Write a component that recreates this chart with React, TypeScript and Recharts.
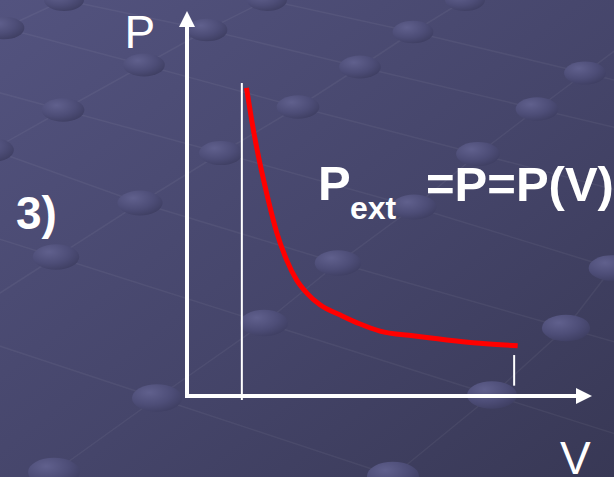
import { ComposedChart, Line, XAxis, YAxis, ReferenceLine } from 'recharts'

// P(V) along the expansion, arbitrary units
const volume = [1.53, 1.72, 2.09, 2.31, 2.56, 2.82, 3.08, 3.42, 3.93, 4.45, 4.96, 5.81, 6.68, 7.53, 8.5]
const pressure = [8.35, 7.13, 5.31, 4.42, 3.69, 3.14, 2.79, 2.47, 2.2, 1.95, 1.76, 1.63, 1.52, 1.43, 1.36]

const data = volume.map((v, i) => ({ v, p: pressure[i] }))

// initial and final volume markers
const startVolume = 1.41
const startMarkerSpan = [-0.11, 8.48]
const endVolume = 8.41
const endMarkerSpan = [0.28, 1.11]

const W = 614
const H = 477
const FONT = '"Liberation Sans", Arial, sans-serif'

// slide backdrop: beads sitting on a perspective lattice
const beads: [number, number][] = [
  [4, 28], [64, 0], [267, 0], [465, 0], [207, 30], [413, 32], [144, 65], [360, 67],
  [585, 73], [63, 110], [298, 107], [537, 109], [-8, 150], [221, 153], [478, 154],
  [140, 203], [414, 207], [56, 257], [338, 263], [612, 268], [264, 323], [566, 328],
  [157, 398], [492, 395], [54, 472], [393, 476],
]
const risingRows = [
  [0, 1],
  [12, 9, 6, 4, 2],
  [17, 15, 13, 10, 7, 5, 3],
  [24, 22, 20, 18, 16, 14, 11, 8],
  [25, 23, 21, 19],
]
const fallingRows = [
  [0, 6, 10, 14],
  [1, 4, 7, 11],
  [2, 5, 8],
  [12, 15, 18, 21],
  [9, 13, 16, 19],
  [17, 20, 23],
  [22, 25],
]

function rowPath(row: number[]) {
  const pts = row.map((i) => beads[i])
  const [a, b] = [pts[0], pts[1]]
  const [y, z] = [pts[pts.length - 2], pts[pts.length - 1]]
  const head: [number, number] = [a[0] - (b[0] - a[0]) * 4, a[1] - (b[1] - a[1]) * 4]
  const tail: [number, number] = [z[0] + (z[0] - y[0]) * 4, z[1] + (z[1] - y[1]) * 4]
  return [head, ...pts, tail].map((p, i) => `${i ? 'L' : 'M'}${p[0]},${p[1]}`).join(' ')
}

function Backdrop() {
  return (
    <svg width={W} height={H} style={{ position: 'absolute', left: 0, top: 0 }}>
      <defs>
        <linearGradient id="slideBg" x1="0" y1="0" x2="1" y2="1">
          <stop offset="0%" stopColor="#53537f" />
          <stop offset="55%" stopColor="#45456a" />
          <stop offset="100%" stopColor="#383855" />
        </linearGradient>
        <radialGradient id="bead" cx="35%" cy="30%" r="75%">
          <stop offset="0%" stopColor="#60608d" />
          <stop offset="60%" stopColor="#4d4d77" />
          <stop offset="100%" stopColor="#3f3f63" />
        </radialGradient>
      </defs>
      <rect width={W} height={H} fill="url(#slideBg)" />
      {[...risingRows, ...fallingRows].map((row, i) => (
        <path key={i} d={rowPath(row)} stroke="#ffffff" strokeOpacity={0.05} strokeWidth={1.5} fill="none" />
      ))}
      {beads.map(([x, y], i) => {
        const rx = 20 + (6 * y) / H
        return <ellipse key={i} cx={x} cy={y} rx={rx} ry={rx * 0.55} fill="url(#bead)" />
      })}
    </svg>
  )
}

const axisLine = { stroke: '#ffffff', strokeWidth: 4, strokeLinecap: 'square' as const }

export default function App() {
  return (
    <div style={{ position: 'absolute', left: 0, top: 0, width: W, height: H, overflow: 'hidden' }}>
      <Backdrop />
      <div style={{ position: 'absolute', left: 0, top: 0 }}>
        <ComposedChart width={W} height={H} data={data} margin={{ top: 27, right: 38, bottom: 80, left: 186 }}>
          <defs>
            <marker
              id="axisArrow"
              viewBox="0 0 16 16"
              refX={0}
              refY={8}
              markerWidth={16}
              markerHeight={16}
              markerUnits="userSpaceOnUse"
              orient="auto-start-reverse"
            >
              <path d="M0,0 L16,8 L0,16 Z" fill="#ffffff" />
            </marker>
          </defs>
          <XAxis
            type="number"
            dataKey="v"
            domain={[0, 10]}
            allowDataOverflow
            height={1}
            tick={false}
            tickLine={false}
            axisLine={{ ...axisLine, markerEnd: 'url(#axisArrow)' }}
          />
          <YAxis
            type="number"
            domain={[0, 10]}
            allowDataOverflow
            width={1}
            tick={false}
            tickLine={false}
            axisLine={{ ...axisLine, markerStart: 'url(#axisArrow)' }}
          />
          <ReferenceLine
            segment={[{ x: startVolume, y: startMarkerSpan[0] }, { x: startVolume, y: startMarkerSpan[1] }]}
            stroke="#ffffff"
            strokeWidth={2}
            ifOverflow="visible"
          />
          <ReferenceLine
            segment={[{ x: endVolume, y: endMarkerSpan[0] }, { x: endVolume, y: endMarkerSpan[1] }]}
            stroke="#ffffff"
            strokeWidth={2}
            ifOverflow="visible"
          />
          <Line
            type="monotone"
            dataKey="p"
            stroke="#ff0000"
            strokeWidth={5}
            dot={false}
            activeDot={false}
            isAnimationActive={false}
          />
          <text x={124.5} y={48} fill="#ffffff" fontSize={46} fontFamily={FONT}>P</text>
          <text x={560} y={474} fill="#ffffff" fontSize={46} fontFamily={FONT}>V</text>
          <text x={16} y={229} fill="#ffffff" fontSize={46} fontWeight="bold" fontFamily={FONT}>3)</text>
          <text x={318} y={200} fill="#ffffff" fontSize={49} fontWeight="bold" fontFamily={FONT}>P</text>
          <text x={350} y={219} fill="#ffffff" fontSize={32} fontWeight="bold" fontFamily={FONT}>ext</text>
          <text x={426} y={201} fill="#ffffff" fontSize={49} fontWeight="bold" fontFamily={FONT}>=P=P(V)</text>
        </ComposedChart>
      </div>
    </div>
  )
}
